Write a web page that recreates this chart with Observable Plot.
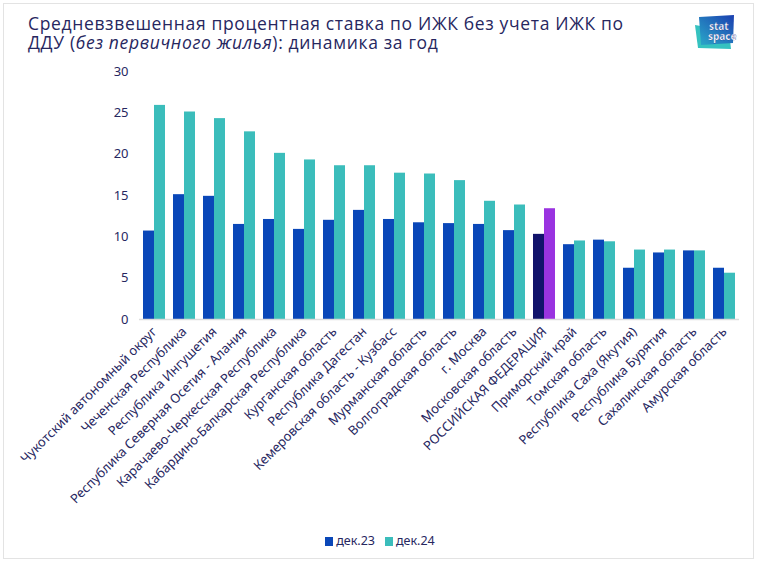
<!DOCTYPE html>
<html>
<head>
<meta charset="utf-8">
<script src="https://cdn.jsdelivr.net/npm/d3@7"></script>
<script src="https://cdn.jsdelivr.net/npm/@observablehq/plot@0.6"></script>
<style>
  html, body { margin: 0; padding: 0; background: #fff; }
  #wrap { position: relative; width: 760px; height: 564px; overflow: hidden; font-family: "Noto Sans", sans-serif; color: #27275f; }
  #frame { position: absolute; left: 3px; top: 3px; width: 751px; height: 556px; border: 1px solid #e3e3e3; box-sizing: border-box; }
  #title { position: absolute; left: 28px; top: 14px; font-family: "Open Sans", sans-serif; font-weight: 400; font-size: 17.5px; line-height: 18.5px; color: #27275f; letter-spacing: 0.65px; white-space: nowrap; }
  #chart { position: absolute; left: 0; top: 60px; }
  #legend { position: absolute; top: 532px; left: 0; width: 760px; text-align: center; font-size: 12.5px; }
  #legend span.sw { display: inline-block; width: 8px; height: 9px; margin-right: 3px; vertical-align: -1px; }
  #legend span.item { margin: 0 5px; }
  #logo { position: absolute; left: 693px; top: 10px; }
</style>
</head>
<body>
<div id="wrap">
  <div id="frame"></div>
  <div id="title">Средневзвешенная процентная ставка по ИЖК без учета ИЖК по<br>ДДУ (<i>без первичного жилья</i>): динамика за год</div>
  <svg id="logo" width="56" height="42" viewBox="0 0 56 42">
    <defs>
      <linearGradient id="lg" x1="0" y1="1" x2="1" y2="0">
        <stop offset="0" stop-color="#2aa9c9"/>
        <stop offset="1" stop-color="#1b3fb0"/>
      </linearGradient>
    </defs>
    <polygon points="2,15 36,21 38,39 5,38" fill="#35c2c0"/>
    <polygon points="6,7 41,5 40,33 8,35" fill="url(#lg)"/>
    <text fill="#fff" stroke="#1b2f8a" stroke-width="0.25" font-family="Noto Sans" font-weight="700" font-size="10"><tspan x="16" y="20">stat</tspan><tspan x="15" y="30">space</tspan></text>
  </svg>
  <div id="chart"></div>
  <div id="legend"><span class="item"><span class="sw" style="background:#0a47b8"></span>дек.23</span><span class="item"><span class="sw" style="background:#3bbdbb"></span>дек.24</span></div>
</div>
<script>
const regions = [
  "Чукотский автономный округ",
  "Чеченская Республика",
  "Республика Ингушетия",
  "Республика Северная Осетия - Алания",
  "Карачаево-Черкесская Республика",
  "Кабардино-Балкарская Республика",
  "Курганская область",
  "Республика Дагестан",
  "Кемеровская область - Кузбасс",
  "Мурманская область",
  "Волгоградская область",
  "г. Москва",
  "Московская область",
  "РОССИЙСКАЯ ФЕДЕРАЦИЯ",
  "Приморский край",
  "Томская область",
  "Республика Саха (Якутия)",
  "Республика Бурятия",
  "Сахалинская область",
  "Амурская область"
];
const dec23 = [10.7, 15.1, 14.9, 11.5, 12.1, 10.9, 12.0, 13.2, 12.1, 11.7, 11.6, 11.5, 10.75, 10.3, 9.05, 9.6, 6.2, 8.05, 8.3, 6.2];
const dec24 = [25.9, 25.1, 24.3, 22.7, 20.1, 19.3, 18.6, 18.6, 17.7, 17.6, 16.8, 14.3, 13.85, 13.4, 9.5, 9.4, 8.4, 8.4, 8.3, 5.6];
const seriesNames = ["дек.23", "дек.24"];
const yTicks = [0, 5, 10, 15, 20, 25, 30];
const highlight = "РОССИЙСКАЯ ФЕДЕРАЦИЯ";
const seriesColors = ["#0a47b8", "#3bbdbb"];
const highlightColors = ["#12136b", "#9a33e0"];

const data = [];
regions.forEach((r, i) => {
  data.push({region: r, series: seriesNames[0], value: dec23[i]});
  data.push({region: r, series: seriesNames[1], value: dec24[i]});
});

const chart = Plot.plot({
  width: 760,
  height: 460,
  marginLeft: 138,
  marginRight: 20,
  marginTop: 11,
  marginBottom: 201,
  style: {fontFamily: "Noto Sans", fontSize: "13px", color: "#27275f", background: "transparent"},
  fx: {domain: regions, padding: 0, label: null, tickRotate: -45, tickSize: 0, tickPadding: 10},
  x: {domain: seriesNames, paddingInner: 0, paddingOuter: 0.35, axis: null},
  y: {domain: [0, 30], ticks: yTicks, tickSize: 0, tickPadding: 11, label: null, line: false},
  color: {type: "identity"},
  marks: [
    Plot.barY(data, {
      fx: "region", x: "series", y: "value",
      fill: d => {
        const k = seriesNames.indexOf(d.series);
        return d.region === highlight ? highlightColors[k] : seriesColors[k];
      }
    }),
    Plot.ruleY([0], {stroke: "#dcdcdc", strokeWidth: 1.5})
  ]
});
document.getElementById("chart").appendChild(chart);
</script>
</body>
</html>
